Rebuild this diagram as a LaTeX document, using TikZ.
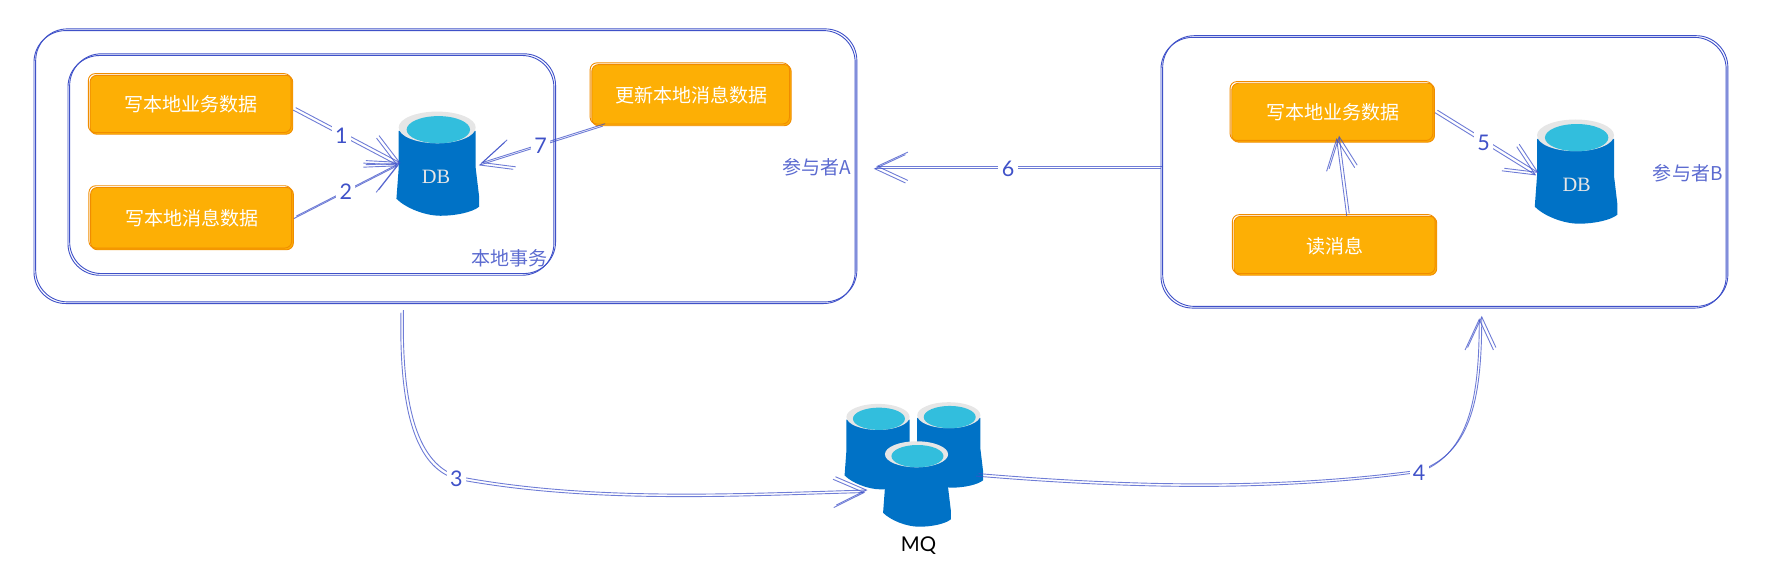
\documentclass[tikz,border=0pt]{standalone}
\usepackage{fontspec}
\setmainfont{Noto Sans CJK SC}
\newfontfamily\numfont{Lato}
\newfontfamily\drumfont{Liberation Serif}
\usetikzlibrary{arrows.meta}

\definecolor{linkblue}{HTML}{3F51C8}
\definecolor{taskfill}{HTML}{FDAF05}
\definecolor{taskedge}{HTML}{F08C00}
\definecolor{drumblue}{HTML}{0072C6}
\definecolor{drumcyan}{HTML}{32BEDD}
\definecolor{drumgrey}{HTML}{E6E6E6}

\tikzset{
    rough/.style={line width=.8pt, postaction={draw, transform canvas={shift={(#1,#1)}}}},
    rough/.default=1.5pt,
    groupbox/.style={draw=linkblue, rough, rounded corners=28pt, inner sep=0pt},
    taskbox/.style={draw=taskedge, fill=taskfill, rounded corners=6pt, line width=.8pt,
        postaction={draw, transform canvas={shift={(-1.5pt,1.5pt)}}},
        minimum width=179pt, minimum height=52pt, inner sep=0pt, text=white,
        font=\fontsize{16.8}{20}\selectfont},
    link/.style={draw=linkblue, draw opacity=.75, rough=2.2pt,
        -{Straight Barb[length=27pt,width=25pt]}},
    numlabel/.style={fill=white, inner sep=3pt, text=linkblue, font=\numfont\fontsize{19}{22}\selectfont},
    sidelabel/.style={inner sep=0pt, text=linkblue!85, font=\fontsize{16.8}{20}\selectfont},
    drumtext/.style={inner sep=0pt, font=\drumfont\fontsize{18}{20}\selectfont},
}

% drum: scale, name, x, y
\newcommand{\dbdrum}[4]{
    \begin{scope}[shift={(#3,#4)}, scale=#1]
        \fill[drumblue] (-35,-28) -- (-35,5) -- (-37,32) .. controls (-29,40) and (-12,47) .. (2,47)
            .. controls (15,47) and (30,44) .. (36,39) -- (36,30) -- (33,5) -- (33,-28) -- cycle;
        \fill[drumgrey] (-1,-31) ellipse [x radius=34, y radius=14];
        \fill[drumcyan] (0,-29) ellipse [x radius=28, y radius=12];
    \end{scope}
    \node[inner sep=0pt, minimum width=#1*71pt, minimum height=#1*93pt] (#2) at (#3,#4) {};
}

\begin{document}
\begin{tikzpicture}[x=1pt, y=-1pt]
    \useasboundingbox (0,0) rectangle (1568,508.5);

    % the two participants and the local transaction
    \node[groupbox, minimum width=725pt, minimum height=241pt] (partA) at (392.5,147.5) {};
    \node[groupbox, minimum width=429pt, minimum height=194pt] (txnA) at (274.5,146) {};
    \node[groupbox, minimum width=499pt, minimum height=239pt] (partB) at (1274.5,152.5) {};

    % the tasks
    \node[taskbox] (bizA) at (169,92.5) {写本地业务数据};
    \node[taskbox, minimum height=55pt] (msgA) at (169.5,193) {写本地消息数据};
    \node[taskbox, minimum width=176pt, minimum height=54pt] (updA) at (610.5,84) {更新本地消息数据};
    \node[taskbox] (bizB) at (1177,99.5) {写本地业务数据};
    \node[taskbox] (readB) at (1179,217) {读消息};

    % the drums of both databases
    \dbdrum{1}{dbA}{387}{143.5}
    \dbdrum{1}{dbB}{1392}{150.5}
    \node[drumtext, text=drumgrey] (dbAtext) at (385,156) {DB};
    \node[drumtext, text=drumgrey] (dbBtext) at (1392,163) {DB};

    % the drums of the queue, front one last
    \dbdrum{.82}{mqL}{776}{393.5}
    \dbdrum{.82}{mqR}{838.5}{392}
    \dbdrum{.82}{mqC}{810}{426.5}
    \node[inner sep=0pt, text=black, font=\numfont\fontsize{18}{20}\selectfont] (mqtext) at (811,482) {MQ};

    % the side labels
    \node[sidelabel, anchor=east] (txnlabel) at (484,228) {本地事务};
    \node[sidelabel, anchor=east] (partAlabel) at (752,148) {参与者A};
    \node[sidelabel, anchor=east] (partBlabel) at (1521,153) {参与者B};

    % free ends of the long connectors
    \coordinate (outThree) at (354,276);
    \coordinate (inFour) at (1306,281);
    \coordinate (midSix) at (896,149);

    % arrows into the local database
    \draw[link] (bizA.-3) -- node[numlabel, pos=.46] (numOne) {1} (dbA.184);
    \draw[link] (msgA.east) -- node[numlabel, pos=.5] (numTwo) {2} (dbA.184);
    \draw[link] ([xshift=10pt]updA.south west) -- node[numlabel, pos=.5] (numSeven) {7} (dbA.-4);

    % B answers to A
    \draw[link, shorten >=16pt] (partB.west |- midSix) -- node[numlabel] (numSix) {6} (partA.east |- midSix);

    % inside participant B
    \draw[link] (bizB.east) -- node[numlabel, pos=.48] (numFive) {5} (dbB.187);
    \draw[link] ([xshift=10pt]readB.north) -- ([xshift=3pt,yshift=4pt]bizB.south);

    % A to the queue
    \draw[link, shorten >=17pt] (outThree) .. controls (352,375) and (372,414) .. (403,423) node[numlabel] (numThree) {3}
        .. controls (520,445) and (650,438) .. (mqC.195);
    % the queue to B
    \draw[link] ([xshift=-6pt,yshift=10pt]mqR.south east) .. controls (1000,432) and (1130,434) .. (1253,417) node[numlabel] (numFour) {4}
        .. controls (1298,400) and (1306,350) .. (inFour);
\end{tikzpicture}
\end{document}
